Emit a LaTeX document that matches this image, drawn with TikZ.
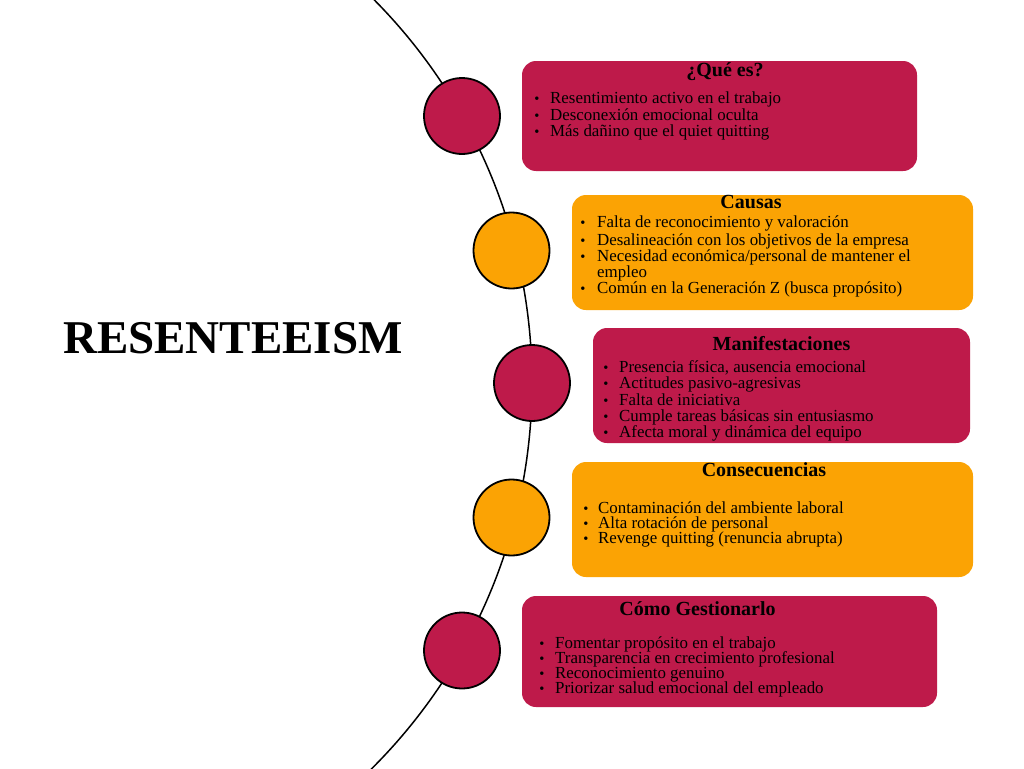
\documentclass[tikz,border=0pt]{standalone}
\usepackage{fontspec}
\setmainfont{Liberation Serif}
\definecolor{crim}{HTML}{BE1A4A}
\definecolor{oran}{HTML}{FBA304}
\tikzset{
  x=1pt, y=-1pt,
  dot/.style={circle, draw=black, line width=1.8pt, minimum size=76pt, inner sep=0pt},
  boxr/.style={rounded corners=14pt, fill=#1},
  ttl/.style={anchor=base, inner sep=0pt, font=\fontsize{20}{22}\selectfont\bfseries},
  itm/.style={anchor=base west, inner sep=0pt, font=\fontsize{16.9}{18}\selectfont},
  bul/.style={anchor=base, inner sep=0pt, font=\fontsize{14.5}{16}\selectfont},
}
\begin{document}
\begin{tikzpicture}
\useasboundingbox (0,0) rectangle (1024,768);
\fill[white] (0,0) rectangle (1024,768);
% arc
\begin{scope}
\clip (0,0) rectangle (1024,768);
\draw[line width=1.5pt] (-12,383) circle[radius=544pt];
\end{scope}
% circles
\node[dot, fill=crim] (c1) at (462,116) {};
\node[dot, fill=oran] (c2) at (511.5,250.5) {};
\node[dot, fill=crim] (c3) at (532,383) {};
\node[dot, fill=oran] (c4) at (511.5,517.5) {};
\node[dot, fill=crim] (c5) at (462,650.5) {};
% title
\node[inner sep=0pt, anchor=base, font=\fontsize{47}{50}\selectfont\bfseries] (main) at (233,353) {RESENTEEISM};
% boxes
\fill[boxr=crim] (522,61) rectangle (917,171);
\fill[boxr=oran] (572,195) rectangle (973,310);
\fill[boxr=crim] (593,328) rectangle (970,443);
\fill[boxr=oran] (572,462) rectangle (973,577);
\fill[boxr=crim] (522,596) rectangle (937,707);
% box 1
\node[ttl] (t1) at (725,77) {¿Qué es?};
\foreach \t [count=\i] in {Resentimiento activo en el trabajo, Desconexión emocional oculta, Más dañino que el quiet quitting}{
  \node[bul] (b1\i) at (537,103.3+16.7*\i-16.7) {\textbullet};
  \node[itm] (a1\i) at (550,103.3+16.7*\i-16.7) {\t};
}
% box 2
\node[ttl] (t2) at (751,208.5) {Causas};
\foreach \t/\y in {Falta de reconocimiento y valoración/227.7, Desalineación con los objetivos de la empresa/245, Necesidad económica{/}personal de mantener el/261, Común en la Generación Z (busca propósito)/293.3}{
  \node[bul] (b2\y) at (583,\y) {\textbullet};
  \node[itm] (a2\y) at (597,\y) {\t};
}
\node[itm] (a2e) at (597,277.3) {empleo};
% box 3
\node[ttl] (t3) at (781.5,350) {Manifestaciones};
\foreach \t [count=\i] in {Presencia física{,} ausencia emocional, Actitudes pasivo-agresivas, Falta de iniciativa, Cumple tareas básicas sin entusiasmo, Afecta moral y dinámica del equipo}{
  \node[bul] (b3\i) at (606,372.7+16.25*\i-16.25) {\textbullet};
  \node[itm] (a3\i) at (619,372.7+16.25*\i-16.25) {\t};
}
% box 4
\node[ttl] (t4) at (764,476.7) {Consecuencias};
\foreach \t [count=\i] in {Contaminación del ambiente laboral, Alta rotación de personal, Revenge quitting (renuncia abrupta)}{
  \node[bul] (b4\i) at (586,513.3+15*\i-15) {\textbullet};
  \node[itm] (a4\i) at (598,513.3+15*\i-15) {\t};
}
% box 5
\node[ttl] (t5) at (697.5,615.3) {Cómo Gestionarlo};
\foreach \t [count=\i] in {Fomentar propósito en el trabajo, Transparencia en crecimiento profesional, Reconocimiento genuino, Priorizar salud emocional del empleado}{
  \node[bul] (b5\i) at (542,648.7+15*\i-15) {\textbullet};
  \node[itm] (a5\i) at (555,648.7+15*\i-15) {\t};
}
\end{tikzpicture}
\end{document}
